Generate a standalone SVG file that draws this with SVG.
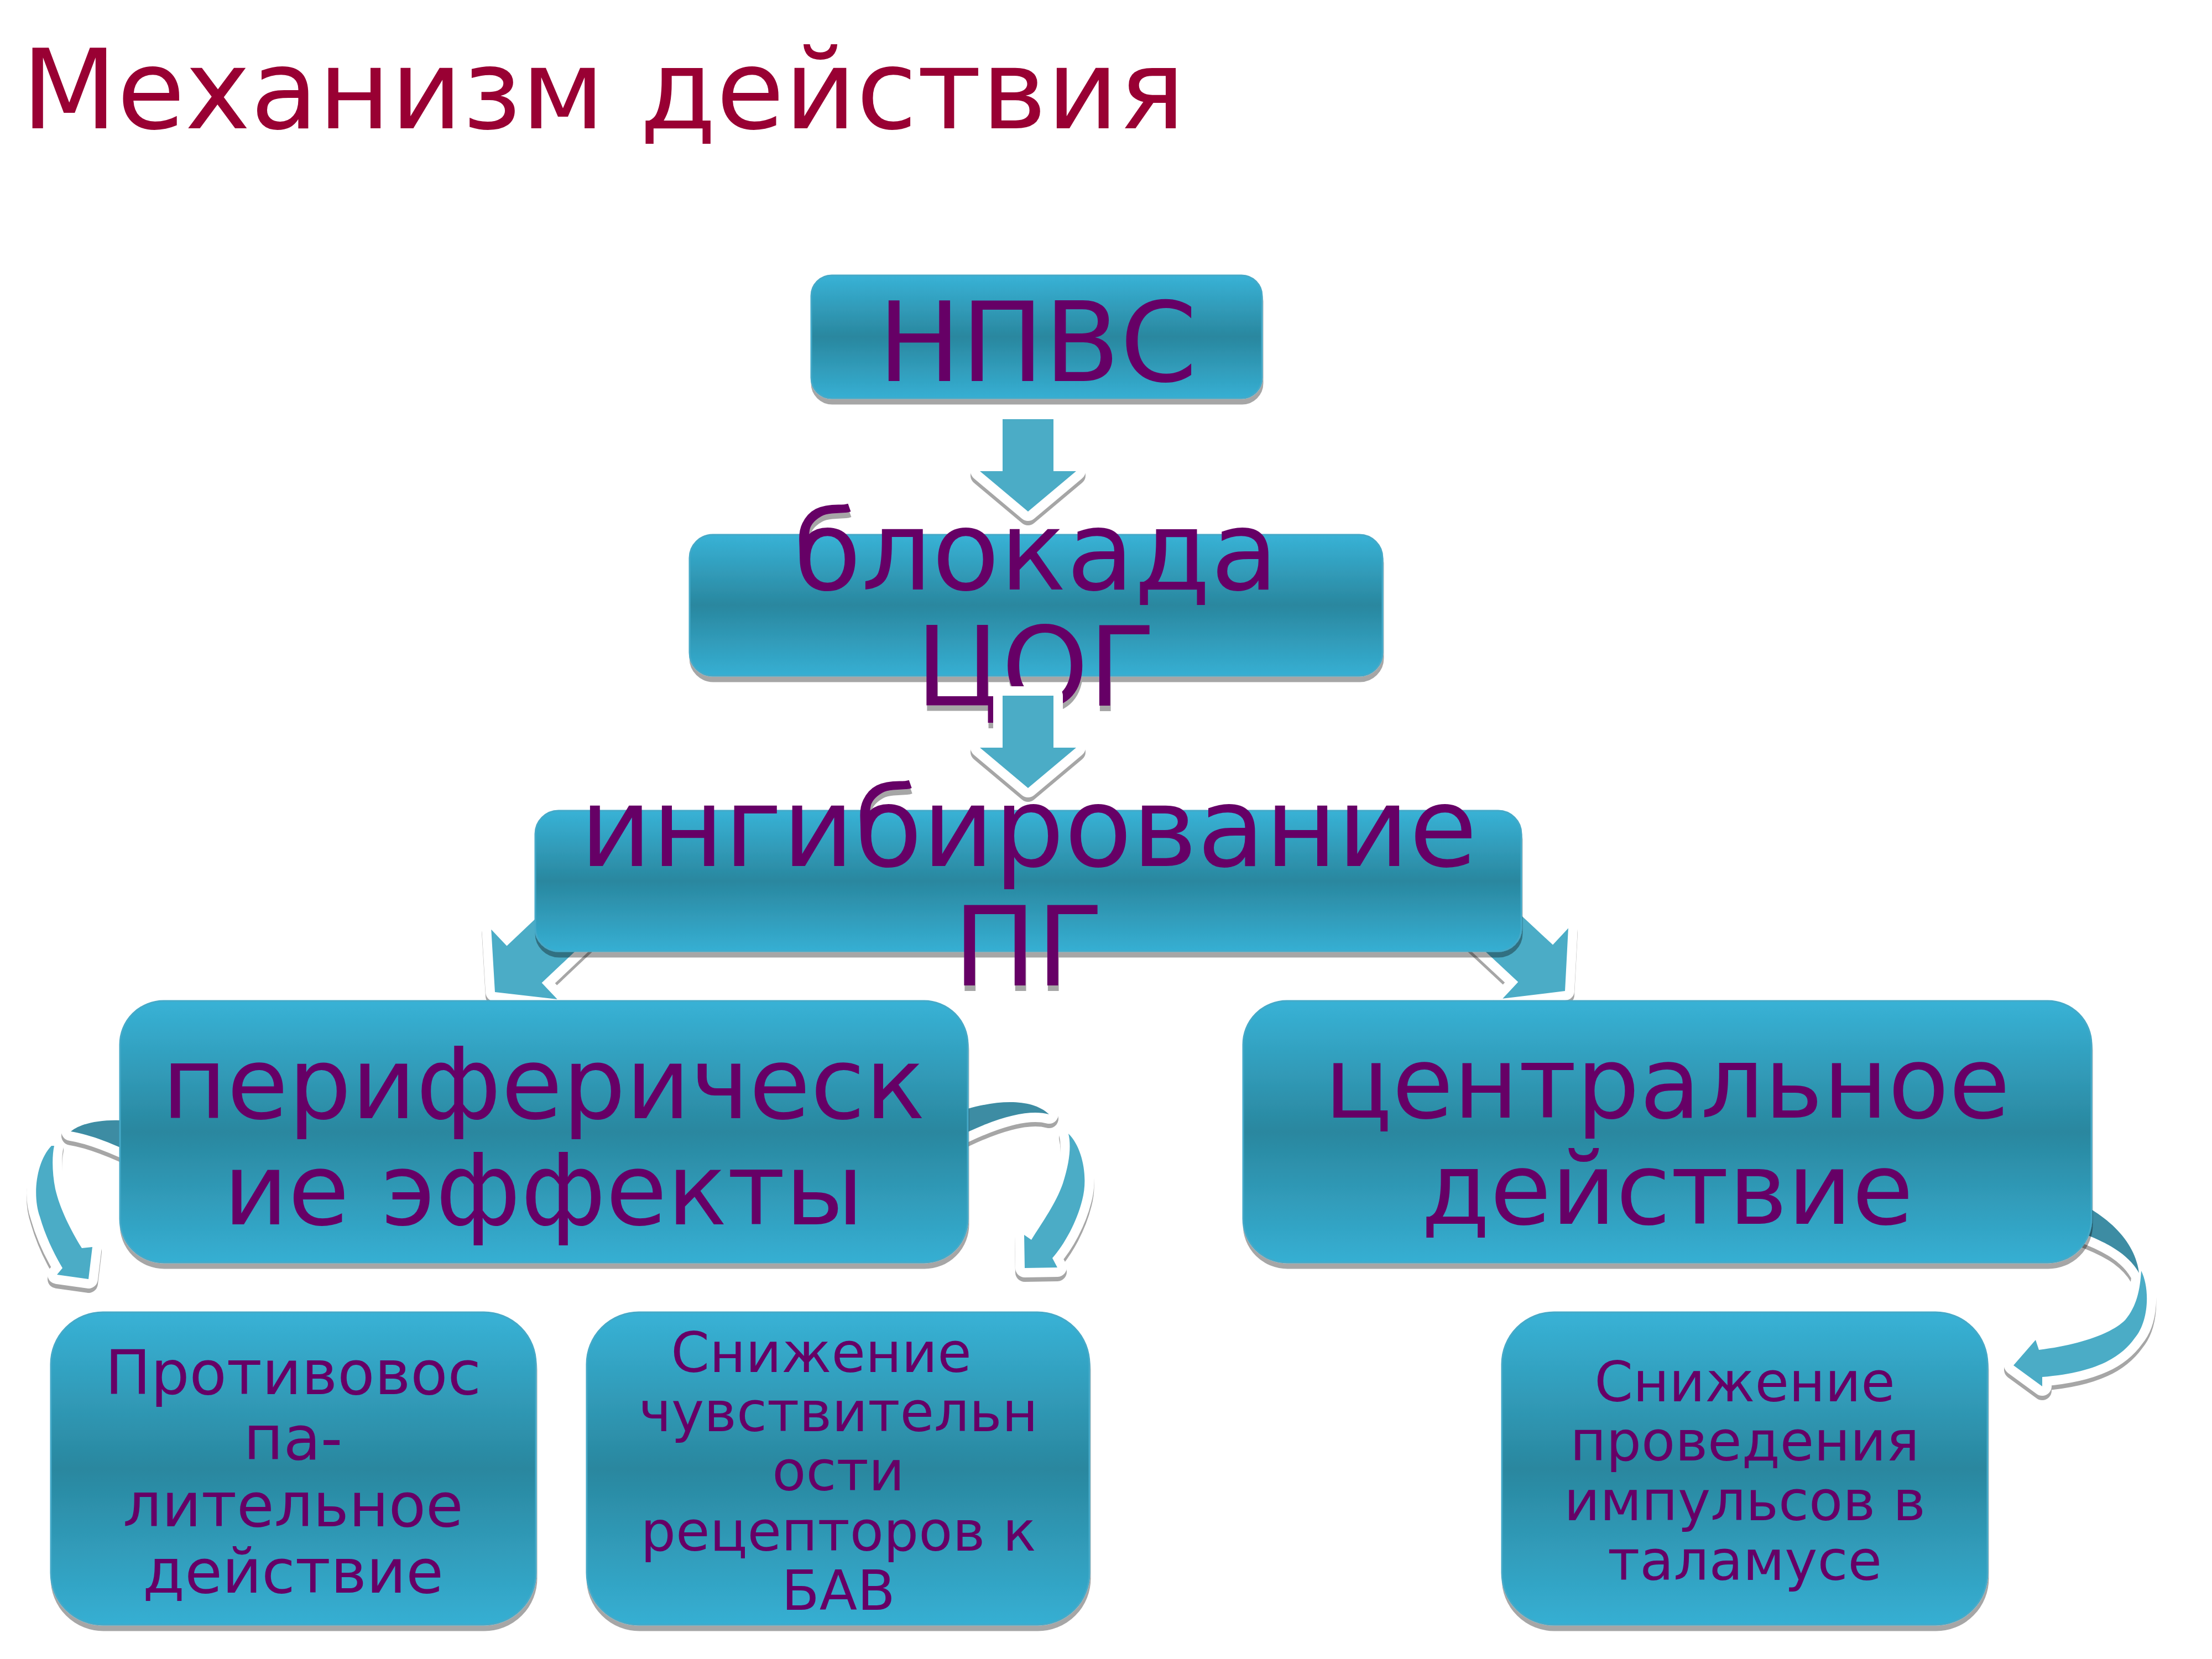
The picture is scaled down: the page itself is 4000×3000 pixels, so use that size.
<svg xmlns="http://www.w3.org/2000/svg" width="4000" height="3000" viewBox="0 0 4000 3000">
<defs>
<linearGradient id="g" x1="0" y1="0" x2="0" y2="1">
<stop offset="0" stop-color="#38B2D6"/>
<stop offset="0.5" stop-color="#2A879F"/>
<stop offset="1" stop-color="#36AFD3"/>
</linearGradient>
<filter id="sh" x="-10%" y="-20%" width="120%" height="150%">
<feOffset in="SourceAlpha" dx="1" dy="10" result="o"/>
<feFlood flood-color="#000" flood-opacity="0.35"/>
<feComposite in2="o" operator="in" result="s"/>
<feMerge><feMergeNode in="s"/><feMergeNode in="SourceGraphic"/></feMerge>
</filter>
<path id="blk" d="M0,0 L-87,-73 L-46,-73 L-46,-167 L46,-167 L46,-73 L87,-73 Z"/>
<path id="blkL" d="M0,0 L-87,-73 L-46,-73 L-46,-230 L46,-230 L46,-73 L87,-73 Z"/>
<path id="cA" d="M93,2072 C66,2100 58,2160 72,2200 C82,2235 98,2268 113,2293 L103,2305 L160,2313 L167,2255 L148,2257 C128,2225 108,2185 100,2150 C94,2120 94,2090 98,2072 Z"/>
<path id="cAd" d="M128,2046 C150,2028 200,2020 260,2030 L260,2095 C210,2070 165,2052 128,2046 Z"/>
<path id="cB" d="M1932,2050 C1958,2075 1968,2130 1957,2170 C1947,2210 1925,2250 1903,2275 L1912,2292 L1853,2293 L1852,2233 L1865,2242 C1885,2210 1910,2175 1922,2140 C1935,2100 1937,2070 1932,2050 Z"/>
<path id="cBd" d="M1720,2015 C1780,1992 1860,1980 1897,2015 C1860,2005 1800,2020 1720,2062 Z"/>
<path id="cC" d="M3872,2298 C3888,2330 3886,2390 3860,2420 C3835,2455 3790,2482 3693,2490 L3693,2507 L3641,2469 L3681,2423 L3687,2441 C3760,2432 3818,2412 3843,2387 C3864,2362 3870,2332 3872,2298 Z"/>
<path id="cCd" d="M3760,2175 C3820,2205 3862,2250 3868,2302 C3850,2270 3815,2248 3760,2228 Z"/>
</defs>
<style>
.node{filter:url(#sh)}
.box{fill:url(#g);stroke:#45A9C8;stroke-width:3}
.t{font-family:"DejaVu Sans","Liberation Sans",sans-serif;fill:#660066;text-anchor:middle}
.ar{fill:#4BACC6}
.ad{fill:#3D8CA3}
.aw{fill:#fff;stroke:#fff;stroke-width:34;stroke-linejoin:round}
.ash{fill:#A6A6A6;stroke:#A6A6A6;stroke-width:34;stroke-linejoin:round}
.title{font-family:"DejaVu Sans","Liberation Sans",sans-serif;fill:#990033;font-size:200px}
</style>
<rect width="4000" height="3000" fill="#fff"/>
<text class="title" x="39" y="232">Механизм действия</text>

<g id="node-npvs" class="node">
<rect class="box" x="1467" y="498" width="815" height="222" rx="37"/>
<text class="t" x="1876" y="689" font-size="200">НПВС</text>
</g>

<g id="node-blokada" class="node">
<rect class="box" x="1247" y="967" width="1253" height="255" rx="42"/>
<text class="t" x="1873" y="1066" font-size="200">блокада</text>
<text class="t" x="1873" y="1276" font-size="200">ЦОГ</text>
</g>

<g id="connectors">
<use href="#blk" class="ash" transform="translate(1859,933)"/>
<use href="#blk" class="ash" transform="translate(1859,1433)"/>
<use href="#blkL" class="ash" transform="translate(895,1801) rotate(46.6)"/>
<use href="#blkL" class="ash" transform="translate(2830,1799) rotate(-47)"/>
<g transform="translate(0,8)">
<use href="#cA" class="ash"/><use href="#cAd" class="ash"/>
<use href="#cB" class="ash"/><use href="#cBd" class="ash"/>
<use href="#cC" class="ash"/><use href="#cCd" class="ash"/>
</g>
<use href="#blk" class="aw" transform="translate(1859,925)"/>
<use href="#blk" class="aw" transform="translate(1859,1425)"/>
<use href="#blkL" class="aw" transform="translate(895,1794) rotate(46.6)"/>
<use href="#blkL" class="aw" transform="translate(2830,1792) rotate(-47)"/>
<use href="#cA" class="aw"/><use href="#cAd" class="aw"/>
<use href="#cB" class="aw"/><use href="#cBd" class="aw"/>
<use href="#cC" class="aw"/><use href="#cCd" class="aw"/>
<use href="#blk" class="ar" transform="translate(1859,925)"/>
<use href="#blk" class="ar" transform="translate(1859,1425)"/>
<use href="#blkL" class="ar" transform="translate(895,1794) rotate(46.6)"/>
<use href="#blkL" class="ar" transform="translate(2830,1792) rotate(-47)"/>
<use href="#cAd" class="ad"/><use href="#cA" class="ar"/>
<use href="#cBd" class="ad"/><use href="#cB" class="ar"/>
<use href="#cCd" class="ad"/><use href="#cC" class="ar"/>
</g>

<g id="node-ingib" class="node">
<rect class="box" x="968" y="1466" width="1783" height="254" rx="42"/>
<text class="t" x="1860" y="1566" font-size="200">ингибирование</text>
<text class="t" x="1860" y="1782" font-size="200">ПГ</text>
</g>

<g id="node-periph" class="node">
<rect class="box" x="217" y="1810" width="1533" height="473" rx="79"/>
<text class="t" x="983" y="2022" font-size="180">периферическ</text>
<text class="t" x="983" y="2214" font-size="180">ие эффекты</text>
</g>

<g id="node-central" class="node">
<rect class="box" x="2248" y="1810" width="1534" height="473" rx="79"/>
<text class="t" x="3015" y="2021" font-size="180">центральное</text>
<text class="t" x="3015" y="2213" font-size="180">действие</text>
</g>

<g id="node-protiv" class="node">
<rect class="box" x="92" y="2373" width="877" height="565" rx="94"/>
<text class="t" x="530" y="2521" font-size="110">Противовос</text>
<text class="t" x="530" y="2639" font-size="110">па-</text>
<text class="t" x="530" y="2760" font-size="110">лительное</text>
<text class="t" x="530" y="2880" font-size="110">действие</text>
</g>

<g id="node-chuvstv" class="node">
<rect class="box" x="1061" y="2373" width="909" height="565" rx="94"/>
<text class="t" x="1485" y="2481" font-size="100">Снижение</text>
<text class="t" x="1516" y="2588" font-size="100">чувствительн</text>
<text class="t" x="1516" y="2695" font-size="100">ости</text>
<text class="t" x="1516" y="2804" font-size="100">рецепторов к</text>
<text class="t" x="1516" y="2911" font-size="100">БАВ</text>
</g>

<g id="node-talamus" class="node">
<rect class="box" x="2716" y="2373" width="878" height="565" rx="94"/>
<text class="t" x="3155" y="2534" font-size="100">Снижение</text>
<text class="t" x="3155" y="2641" font-size="100">проведения</text>
<text class="t" x="3155" y="2749" font-size="100">импульсов в</text>
<text class="t" x="3155" y="2857" font-size="100">таламусе</text>
</g>
</svg>
